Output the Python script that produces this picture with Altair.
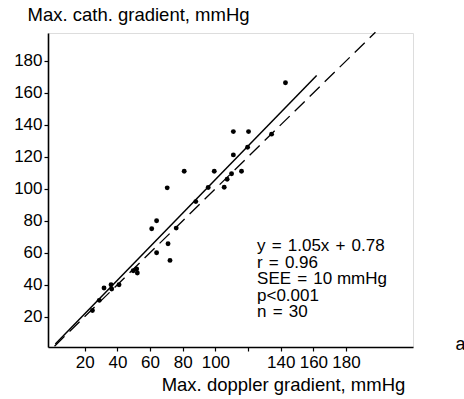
import altair as alt
import pandas as pd

# Scatter data (doppler gradient, cath gradient), mmHg
doppler = [24.7, 28.9, 31.8, 36.1, 36.5, 41.0, 49.7, 51.8, 52.2, 61.0,
           64.0, 64.0, 71.0, 72.2, 76.0, 70.5, 80.9, 88.0, 95.6, 99.3,
           105.4, 107.2, 109.9, 111.0, 111.0, 116.0, 119.7, 120.3, 134.4, 142.9]
cath = [23.8, 30.2, 37.9, 40.0, 37.3, 40.0, 48.7, 49.8, 47.3, 75.0,
        80.0, 60.0, 65.6, 55.2, 75.4, 100.6, 111.0, 92.0, 100.8, 111.0,
        101.0, 106.0, 109.4, 121.2, 135.8, 111.0, 126.0, 135.8, 134.2, 166.4]

# Regression line y = 1.05x + 0.78 and identity line
reg_x = [2, 162]
reg_y = [1.05 * 2 + 0.78, 1.05 * 162 + 0.78]
id_x = [1.5, 198]
id_y = [1.5, 198]

x_ticks = [20, 40, 60, 80, 100, 120, 140, 160, 180]
y_ticks = [20, 40, 60, 80, 100, 120, 140, 160, 180]

SP = "\u00a0\u200a"
stats_lines = [f"y{SP}={SP}1.05x{SP}+{SP}0.78", f"r{SP}={SP}0.96",
               f"SEE{SP}={SP}10 mmHg", "p<0.001", f"n{SP}={SP}30"]
stats_pos = [125.5, 69]
panel_label = ["a"]
panel_pos = [247, 2.5]

FONT = "Liberation Sans"
XDOM = [-2.5, 221]
YDOM = [1, 197.5]

pts = pd.DataFrame({"x": doppler, "y": cath})
reg = pd.DataFrame({"x": reg_x, "y": reg_y})
ident = pd.DataFrame({"x": id_x, "y": id_y})
stats = pd.DataFrame({"x": [stats_pos[0]], "y": [stats_pos[1]], "t": ["\n".join(stats_lines)]})
lab = pd.DataFrame({"x": [panel_pos[0]], "y": [panel_pos[1]], "t": panel_label})

xs = alt.Scale(domain=XDOM, nice=False, zero=False)
ys = alt.Scale(domain=YDOM, nice=False, zero=False)

xaxis = alt.Axis(
    values=x_ticks,
    labelExpr="datum.value == 120 ? '' : datum.label",
    labelOverlap=False,
    title="Max. doppler gradient, mmHg",
    titleFont=FONT, titleFontSize=18.5, titleFontWeight="normal", titleColor="black",
    titleX=235, titleY=43, titleAlign="center", titleBaseline="alphabetic",
    labelFont=FONT, labelFontSize=17, labelColor="black", labelPadding=3,
    tickSize=4, tickColor="black", tickWidth=1.2,
    domainColor="black", domainWidth=1.6, grid=False,
)
yaxis = alt.Axis(
    values=y_ticks,
    labelOverlap=False,
    title="Max. cath. gradient, mmHg",
    titleAngle=0, titleX=-21, titleY=-13, titleAlign="left", titleBaseline="alphabetic",
    titleFont=FONT, titleFontSize=18.5, titleFontWeight="normal", titleColor="black",
    labelFont=FONT, labelFontSize=17, labelColor="black", labelPadding=2,
    tickSize=4, tickColor="black", tickWidth=1.2,
    domainColor="black", domainWidth=1.6, grid=False,
)

points = alt.Chart(pts).mark_circle(size=24, color="black", opacity=1).encode(
    x=alt.X("x:Q", scale=xs, axis=xaxis),
    y=alt.Y("y:Q", scale=ys, axis=yaxis),
)
reg_line = alt.Chart(reg).mark_line(color="black", strokeWidth=1.5).encode(
    x=alt.X("x:Q", scale=xs, axis=xaxis), y=alt.Y("y:Q", scale=ys, axis=yaxis)
)
id_line = alt.Chart(ident).mark_line(color="black", strokeWidth=1.3, strokeDash=[14, 7]).encode(
    x=alt.X("x:Q", scale=xs, axis=xaxis), y=alt.Y("y:Q", scale=ys, axis=yaxis)
)
stats_text = alt.Chart(stats).mark_text(
    align="left", baseline="top", font=FONT, fontSize=17, lineHeight=16.5,
    lineBreak="\n", color="black"
).encode(x=alt.X("x:Q", scale=xs, axis=xaxis), y=alt.Y("y:Q", scale=ys, axis=yaxis), text="t:N")
label_text = alt.Chart(lab).mark_text(
    align="left", baseline="middle", font=FONT, fontSize=18, color="black"
).encode(x=alt.X("x:Q", scale=xs, axis=xaxis), y=alt.Y("y:Q", scale=ys, axis=yaxis), text="t:N")

chart = alt.layer(id_line, reg_line, points, stats_text, label_text).properties(
    width=365, height=314,
    autosize=alt.AutoSizeParams(type="none"),
    padding={"left": 48, "top": 33, "right": 51, "bottom": 52},
).configure_view(stroke=None).configure_axis(labelOverlap=False).configure(background="white")

chart.save("out.html", embed_options={"renderer": "svg", "actions": False})
